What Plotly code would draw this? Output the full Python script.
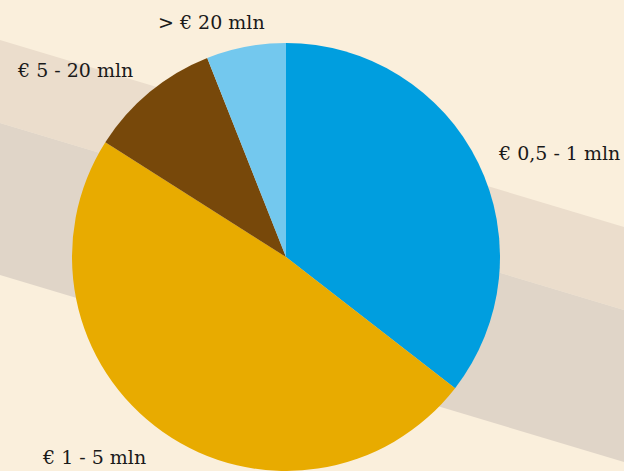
import plotly.graph_objects as go

labels = ["€ 0,5 - 1 mln", "€ 1 - 5 mln", "€ 5 - 20 mln", "> € 20 mln"]
values = [35.5, 48.5, 10.0, 6.0]
colors = ["#009EDF", "#E8AB00", "#77480A", "#73C8EE"]

W, H = 624, 471
cx, cy, r = 286, 257, 214

fig = go.Figure(go.Pie(
    labels=labels, values=values, sort=False, direction="clockwise", rotation=0,
    marker=dict(colors=colors, line=dict(width=0)),
    textinfo="none", hoverinfo="label+percent", showlegend=False,
    domain=dict(x=[(cx - r) / W, (cx + r) / W], y=[1 - (cy + r) / H, 1 - (cy - r) / H]),
))

def px(x, y):
    return x / W, 1 - y / H

def poly(pts):
    s = ""
    for i, (x, y) in enumerate(pts):
        X, Y = px(x, y)
        s += ("M" if i == 0 else "L") + f"{X},{Y} "
    return s + "Z"

shapes = [
    dict(type="path", xref="paper", yref="paper", layer="below", line=dict(width=0),
         fillcolor="#EBDDCC", path=poly([(0, 40), (624, 227), (624, 310), (0, 123)])),
    dict(type="path", xref="paper", yref="paper", layer="below", line=dict(width=0),
         fillcolor="#E0D5C8", path=poly([(0, 123), (624, 310), (624, 462), (0, 275)])),
]

# label anchor positions (pixels)
label_pos = {
    "€ 0,5 - 1 mln": (622, 153, "right"),
    "€ 1 - 5 mln": (40, 457, "left"),
    "€ 5 - 20 mln": (15, 70, "left"),
    "> € 20 mln": (211, 22, "center"),
}
annotations = []
for lab in labels:
    x, y, anc = label_pos[lab]
    X, Y = px(x, y)
    annotations.append(dict(text=lab, x=X, y=Y, xref="paper", yref="paper", showarrow=False,
                            xanchor=anc, yanchor="middle",
                            font=dict(family="DejaVu Serif", size=19, color="#1a1a1a")))

fig.update_layout(width=W, height=H, margin=dict(l=0, r=0, t=0, b=0),
                  paper_bgcolor="#FAEFDC", plot_bgcolor="#FAEFDC",
                  shapes=shapes, annotations=annotations)
fig.write_html("out.html", config={"displayModeBar": False},
               post_script="document.body.style.margin='0';document.body.style.background='#FAEFDC';")
